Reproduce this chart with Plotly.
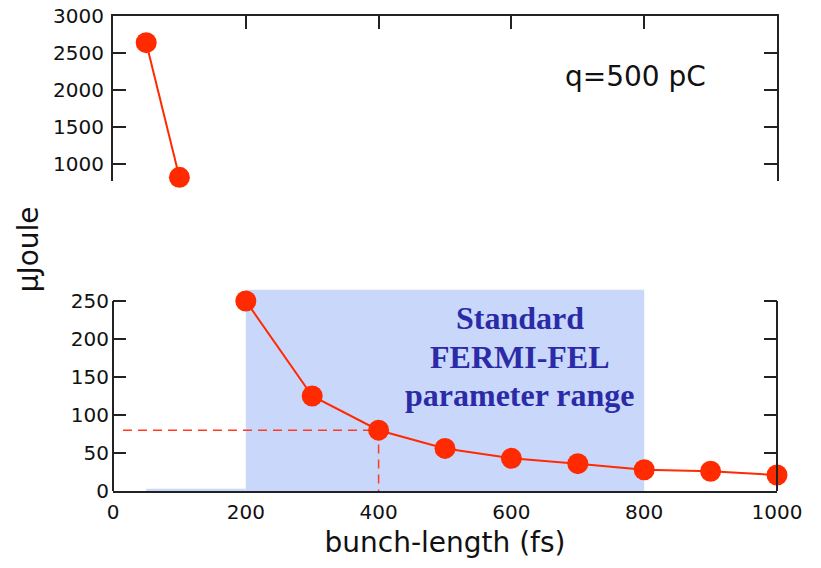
import plotly.graph_objects as go

# Data
x_top = [50, 100]
y_top = [2640, 820]
x_low = [200, 300, 400, 500, 600, 700, 800, 900, 1000]
y_low = [250, 125, 80, 56, 43, 36, 28, 26, 21]
dash_x = [15, 400, 400]
dash_y = [80, 80, 0]
range_x = [200, 800]
range_y = [0, 265]
strip_x = [50, 200]
strip_y = [0, 3]
top_ticks = [1000, 1500, 2000, 2500, 3000]
low_ticks = [0, 50, 100, 150, 200, 250]
x_ticks = [0, 200, 400, 600, 800, 1000]
box_lines = ["Standard", "FERMI-FEL", "parameter range"]
box_line_y = [228, 176, 126]

RED = "#ff2a00"
BLUE_FILL = "#c9d7fb"
FONT = "DejaVu Sans"

fig = go.Figure()

fig.add_trace(go.Scatter(x=x_top, y=y_top, xaxis="x", yaxis="y", mode="lines+markers",
                         line=dict(color=RED, width=2), marker=dict(size=21, color=RED),
                         cliponaxis=False, showlegend=False))
fig.add_trace(go.Scatter(x=dash_x, y=dash_y, xaxis="x2", yaxis="y2", mode="lines",
                         line=dict(color="#ff3a20", width=1.5, dash="9px,6px"),
                         showlegend=False))
fig.add_trace(go.Scatter(x=x_low, y=y_low, xaxis="x2", yaxis="y2", mode="lines+markers",
                         line=dict(color=RED, width=2), marker=dict(size=21, color=RED),
                         cliponaxis=False, showlegend=False))

shapes = [
    dict(type="rect", xref="x2", yref="y2", x0=range_x[0], x1=range_x[1], y0=range_y[0], y1=range_y[1],
         fillcolor=BLUE_FILL, line=dict(width=0), layer="below"),
    dict(type="rect", xref="x2", yref="y2", x0=strip_x[0], x1=strip_x[1], y0=strip_y[0], y1=strip_y[1],
         fillcolor=BLUE_FILL, line=dict(width=0), layer="below"),
    dict(type="line", xref="x2 domain", yref="y2", x0=0, x1=0, y0=low_ticks[0], y1=low_ticks[-1],
         line=dict(color="#222", width=2)),
    dict(type="line", xref="x2 domain", yref="y2", x0=1, x1=1, y0=low_ticks[0], y1=low_ticks[-1],
         line=dict(color="#222", width=2)),
]

annotations = [
    dict(text="μJoule", xref="paper", yref="paper", x=-0.127, y=0.508, textangle=-90,
         showarrow=False, font=dict(size=28), xanchor="center", yanchor="middle"),
    dict(text="q=500 pC", xref="paper", yref="paper", x=0.787, y=0.872,
         showarrow=False, font=dict(size=28), xanchor="center", yanchor="middle"),
]
for txt, yy in zip(box_lines, box_line_y):
    annotations.append(dict(text="<b>" + txt + "</b>", xref="x2", yref="y2", x=613, y=yy,
                            showarrow=False, font=dict(family="Liberation Serif", size=32, color="#2b2ba8"),
                            xanchor="center", yanchor="middle"))

fig.update_layout(
    width=821, height=568,
    margin=dict(l=113, r=44, t=16, b=77, autoexpand=False),
    paper_bgcolor="white", plot_bgcolor="rgba(0,0,0,0)",
    font=dict(family=FONT, size=20, color="#111"),
    shapes=shapes,
    xaxis=dict(domain=[0, 1], anchor="y", range=[0, 1000], side="top", showline=True,
               linecolor="#222", linewidth=2, ticks="inside", ticklen=13, tickwidth=2,
               tickcolor="#222", tickvals=x_ticks[1:-1], showticklabels=False,
               showgrid=False, zeroline=False, automargin=False),
    yaxis=dict(domain=[0.6526, 1], anchor="x", range=[770, 3000], showline=True,
               linecolor="#222", linewidth=2, mirror="ticks", ticks="inside", ticklen=13,
               tickwidth=2, tickcolor="#222", tickvals=top_ticks, showgrid=False,
               zeroline=False, ticklabelstandoff=3, automargin=False),
    xaxis2=dict(domain=[0, 1], anchor="y2", range=[0, 1000], showline=True,
                linecolor="#222", linewidth=2, ticks="", tickvals=x_ticks,
                showgrid=False, zeroline=False, ticklabelstandoff=2, automargin=False,
                title=dict(text="bunch-length (fs)", font=dict(size=28), standoff=9)),
    yaxis2=dict(domain=[0, 0.424], anchor="x2", range=[0, 265], showline=False,
                mirror="ticks", ticks="inside", ticklen=13, tickwidth=2, tickcolor="#222",
                tickvals=low_ticks, showgrid=False, zeroline=False, ticklabelstandoff=3,
                automargin=False),
    annotations=annotations,
)

fig.write_html("out.html", config={"displayModeBar": False},
               post_script="document.body.style.margin='0';")
